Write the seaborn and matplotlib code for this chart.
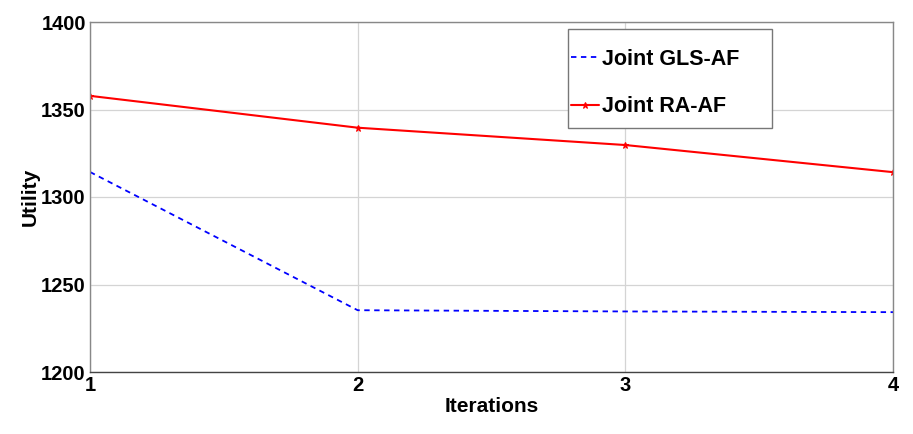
import matplotlib
matplotlib.use("Agg")
import matplotlib.pyplot as plt
from matplotlib.patches import Rectangle
import seaborn as sns
import pandas as pd

iterations = [1, 2, 3, 4]
gls_af = [1314.3, 1235.3, 1234.6, 1234.2]
ra_af = [1357.8, 1339.6, 1329.7, 1314.2]
series_names = ["Joint GLS-AF", "Joint RA-AF"]

sns.set_style("white")
plt.rcParams['font.family'] = ['Liberation Sans', 'DejaVu Sans']
plt.rcParams['font.weight'] = 'bold'
plt.rcParams['text.color'] = 'black'
plt.rcParams['axes.labelcolor'] = 'black'
plt.rcParams['xtick.labelcolor'] = 'black'
plt.rcParams['ytick.labelcolor'] = 'black'

fig = plt.figure(figsize=(9.13, 4.34), dpi=100)
ax = fig.add_axes([90/913, 1-372/434, (893-90)/913, (372-22)/434])

df = pd.DataFrame({
    "Iterations": iterations * 2,
    "Utility": gls_af + ra_af,
    "series": [series_names[0]] * 4 + [series_names[1]] * 4,
})

sns.lineplot(data=df[df.series == series_names[0]], x="Iterations", y="Utility",
             ax=ax, color="#0000ff", linestyle=(0, (3, 2.5)), linewidth=1.3,
             label=series_names[0])
sns.lineplot(data=df[df.series == series_names[1]], x="Iterations", y="Utility",
             ax=ax, color="#ff0000", linewidth=1.5, marker="*", markersize=5,
             markeredgecolor="#ff0000", label=series_names[1])

ax.set_xlim(1, 4)
ax.set_ylim(1200, 1400)
ax.set_xticks(iterations)
ax.set_yticks([1200, 1250, 1300, 1350, 1400])
ax.grid(True, color="#d4d4d4", linewidth=0.9)
ax.tick_params(direction="in", length=5, color="#888888", labelsize=14.5, pad=3,
               labelcolor="black")
for lbl in ax.get_xticklabels() + ax.get_yticklabels():
    lbl.set_fontweight("bold")
for s in ax.spines.values():
    s.set_color("#888888")
    s.set_linewidth(1.0)
ax.spines["bottom"].set_color("#444444")

ax.set_xlabel("Iterations", fontsize=15, fontweight="bold", labelpad=1, color="black")
ax.set_ylabel("Utility", fontsize=15, fontweight="bold", labelpad=1, color="black")

# legend box
box = Rectangle(((568-90)/803, 1-(128-22)/350), 204/803, 99/350,
                transform=ax.transAxes, facecolor="white", edgecolor="#777777",
                linewidth=1.0, zorder=5)
ax.add_patch(box)

leg = ax.legend(loc="center left", bbox_to_anchor=((571-90)/803, 1-(83-22)/350),
                fontsize=15.5, frameon=False, handlelength=1.3,
                handletextpad=0.15, labelspacing=1.23, borderpad=0,
                borderaxespad=0)
leg.set_zorder(6)
for t in leg.get_texts():
    t.set_fontweight("bold")
    t.set_color("black")

fig.savefig("out.png", dpi=100)
